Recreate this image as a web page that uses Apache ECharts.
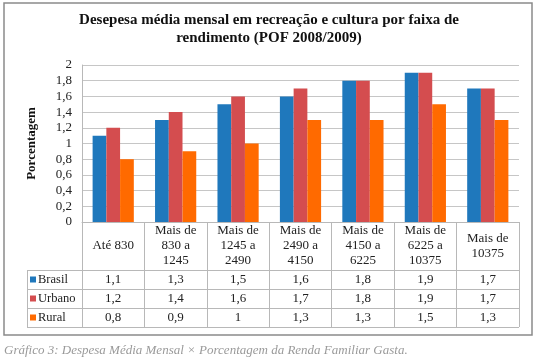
<!DOCTYPE html>
<html>
<head>
<meta charset="utf-8">
<script src="https://cdn.jsdelivr.net/npm/echarts@6/dist/echarts.min.js"></script>
<style>
html,body{margin:0;padding:0;background:#fff;}
#c{width:538px;height:364px;}
</style>
</head>
<body>
<div id="c"></div>
<script>
var titleText = 'Desepesa média mensal em recreação e cultura por faixa de\nrendimento (POF 2008/2009)';
var captionText = 'Gráfico 3: Despesa Média Mensal × Porcentagem da Renda Familiar Gasta.';
var yAxisName = 'Porcentagem';
var categories = ['Até 830', 'Mais de\n830 a\n1245', 'Mais de\n1245 a\n2490', 'Mais de\n2490 a\n4150', 'Mais de\n4150 a\n6225', 'Mais de\n6225 a\n10375', 'Mais de\n10375'];
var seriesNames = ['Brasil', 'Urbano', 'Rural'];
var brasil = [1.1, 1.3, 1.5, 1.6, 1.8, 1.9, 1.7];
var urbano = [1.2, 1.4, 1.6, 1.7, 1.8, 1.9, 1.7];
var rural = [0.8, 0.9, 1.0, 1.3, 1.3, 1.5, 1.3];
var colors = ['#1f78bc', '#d44d4f', '#ff6a00'];
var yMin = 0, yMax = 2, yStep = 0.2;

var FONT = '"Liberation Serif", "DejaVu Serif", serif';
function fmt(v){ return String(Math.round(v*10)/10).replace('.', ','); }

var chart = echarts.init(document.getElementById('c'), null, {renderer:'canvas'});

var gridLeft = 82, gridRight = 19, gridTop = 65, gridBottom = 142;
var axisY = 364 - gridBottom; // 222
var headerH = 48, rowH = 19;
var lineColor = '#b8b8b8';

var allData = [brasil, urbano, rural];
var valueAxes = allData.map(function(arr, i){
  return {
    type: 'category', gridIndex: 0, position: 'bottom',
    offset: headerH + rowH * i,
    data: arr.map(fmt),
    axisLine: {show: false}, axisTick: {show: false}, splitLine: {show: false},
    axisLabel: {interval: 0, margin: rowH/2, verticalAlign: 'middle', fontFamily: FONT, fontSize: 13, color: '#222'}
  };
});

var graphics = [];
graphics.push({type:'rect', shape:{x:4, y:3, width:528, height:332}, style:{fill:'none', stroke:'#8a8a8a', lineWidth:1.5}, silent:true});
for (var r = 0; r <= 3; r++) {
  var yy = axisY + headerH + rowH * r + 0.5;
  graphics.push({type:'line', shape:{x1:27, y1:yy, x2:538-gridRight, y2:yy}, style:{stroke:lineColor, lineWidth:1}, silent:true});
}
graphics.push({type:'line', shape:{x1:27.5, y1:axisY+headerH, x2:27.5, y2:axisY+headerH+rowH*3}, style:{stroke:lineColor, lineWidth:1}, silent:true});
graphics.push({type:'text', left:4, top:344, style:{text:captionText, fontFamily:FONT, fontStyle:'italic', fontSize:13, fill:'#9a9a9a'}});

chart.setOption({
  animation: false,
  color: colors,
  title: {
    text: titleText, left: 'center', top: 6,
    textStyle: {fontFamily: FONT, fontWeight: 'bold', fontSize: 15, color: '#111', lineHeight: 18}
  },
  legend: {
    orient: 'vertical', left: 30, top: axisY + headerH + 2, padding: 0,
    data: seriesNames, icon: 'rect', itemWidth: 6, itemHeight: 6, itemGap: 4,
    textStyle: {fontFamily: FONT, fontSize: 12.5, color: '#222', lineHeight: 15, padding: [0,0,0,-3]}
  },
  grid: {left: gridLeft, right: gridRight, top: gridTop, bottom: gridBottom, containLabel: false},
  xAxis: [{
    type: 'category', data: categories,
    axisLine: {show: true, lineStyle: {color: lineColor}},
    axisTick: {show: true, length: headerH + rowH*3, lineStyle: {color: lineColor}},
    axisLabel: {interval: 0, margin: headerH/2, verticalAlign: 'middle', lineHeight: 15, fontFamily: FONT, fontSize: 13, color: '#222'}
  }].concat(valueAxes),
  yAxis: {
    type: 'value', min: yMin, max: yMax, interval: yStep,
    name: yAxisName, nameLocation: 'middle', nameGap: 44, nameRotate: 90,
    nameTextStyle: {fontFamily: FONT, fontWeight: 'bold', fontSize: 13, color: '#111'},
    axisLine: {show: true, lineStyle: {color: lineColor}},
    axisTick: {show: false},
    splitLine: {lineStyle: {color: '#c6c6c6', width: 1}},
    axisLabel: {formatter: fmt, margin: 10, fontFamily: FONT, fontSize: 13, color: '#222'}
  },
  series: seriesNames.map(function(n, i){
    return {
      name: n, type: 'bar', xAxisIndex: 0, data: allData[i],
      barGap: '0%', barCategoryGap: '34%',
      itemStyle: {color: colors[i]}
    };
  }),
  graphic: graphics
});
</script>
</body>
</html>
